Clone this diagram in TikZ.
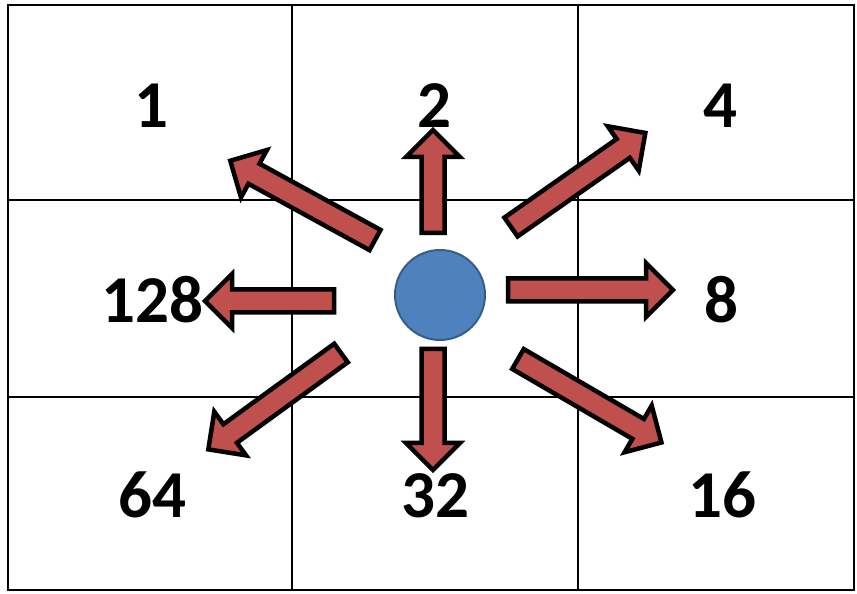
\documentclass[tikz,border=0pt]{standalone}
\usepackage{fontspec}
\setmainfont{Carlito}
\definecolor{arrowred}{HTML}{C0504D}
\definecolor{dotblue}{HTML}{4F81BD}
\definecolor{dotedge}{HTML}{385D8A}
\tikzset{
  gridline/.style={draw=black, line width=2.5pt},
  fatarrow/.style={draw=black, fill=arrowred, line width=4.5pt, line join=miter},
  numlabel/.style={anchor=base, inner sep=0pt, font=\fontsize{67}{80}\selectfont\bfseries},
  dot/.style={circle, draw=dotedge, fill=dotblue, line width=2pt, minimum size=90pt, inner sep=0pt}
}
\newcommand{\bigarrow}[4]{% tail x, tail y, angle, length
  \begin{scope}[shift={(#1,#2)}, rotate=#3]
    \draw[fatarrow] (0,-11.5) -- (#4-27,-11.5) -- (#4-27,-27) -- (#4,0) -- (#4-27,27) -- (#4-27,11.5) -- (0,11.5) -- cycle;
  \end{scope}}
\begin{document}
\begin{tikzpicture}[x=1pt,y=1pt]
\useasboundingbox (0,0) rectangle (857,594);
% grid
\draw[gridline] (8,4) rectangle (854,589);
\draw[gridline] (292,4) -- (292,589);
\draw[gridline] (578,4) -- (578,589);
\draw[gridline] (8,394) -- (854,394);
\draw[gridline, line width=2pt] (8,197) -- (854,197);
% labels
\node[numlabel] (n1) at (151,466) {1};
\node[numlabel] (n2) at (434,466) {2};
\node[numlabel] (n4) at (720,466) {4};
\node[numlabel] (n128) at (152,271) {128};
\node[numlabel] (n8) at (721,271) {8};
\node[numlabel] (n64) at (152,76) {64};
\node[numlabel] (n32) at (435,76) {32};
\node[numlabel] (n16) at (722,76) {16};
% arrows
\bigarrow{433}{361}{90}{103}
\bigarrow{433}{245}{-90}{121}
\bigarrow{334}{293}{180}{129}
\bigarrow{508}{304}{0}{165}
\bigarrow{375}{354}{151.3}{165}
\bigarrow{511}{367}{35}{164}
\bigarrow{341}{241}{216}{164}
\bigarrow{518}{235}{-30.2}{166}
% centre dot
\node[dot] (c) at (440,299) {};
\end{tikzpicture}
\end{document}
